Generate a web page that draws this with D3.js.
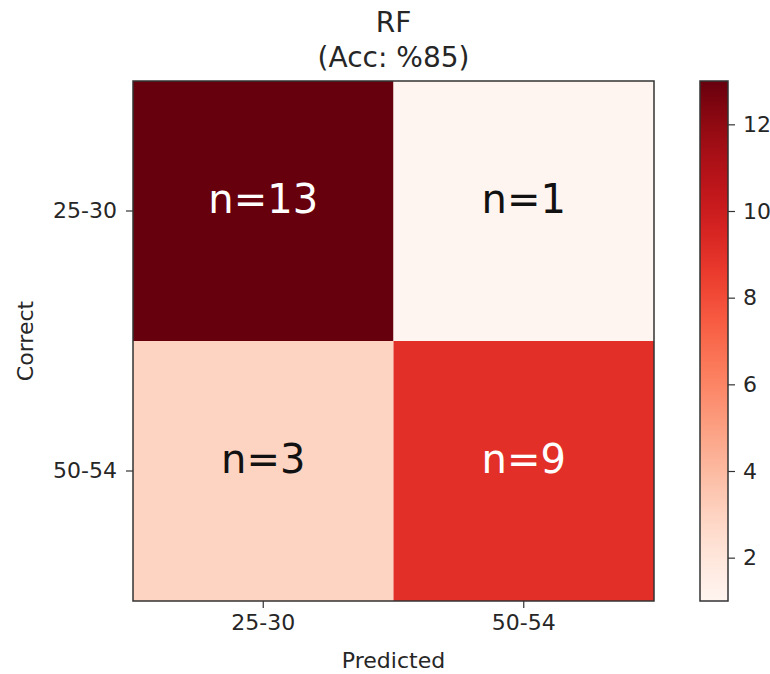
<!DOCTYPE html>
<html>
<head>
<meta charset="utf-8">
<script src="https://cdn.jsdelivr.net/npm/d3@7"></script>
<style>
  html, body { margin: 0; padding: 0; background: #ffffff; }
  svg { display: block; font-family: "DejaVu Sans", sans-serif; }
</style>
</head>
<body>
<svg id="chart" width="770" height="674"></svg>
<script>
// ---- data ----
const predictedLabels = ["25-30", "50-54"];
const correctLabels = ["25-30", "50-54"];
const counts = [
  [13, 1],
  [3, 9]
];
const colorbarTicks = [2, 4, 6, 8, 10, 12];
const titleLines = ["RF", "(Acc: %85)"];
const xAxisLabel = "Predicted";
const yAxisLabel = "Correct";

// ---- layout ----
const svg = d3.select("#chart");
const plot = { left: 133, right: 654, top: 81, bottom: 601 };
const cbar = { left: 700, width: 28 };
const textColor = "#262626";
const frameColor = "#333333";

const allVals = counts.flat();
const vmin = d3.min(allVals), vmax = d3.max(allVals);
const color = d3.scaleSequential(d3.interpolateReds).domain([vmin, vmax]);

const x = d3.scaleBand().domain(predictedLabels).range([plot.left, plot.right]);
const y = d3.scaleBand().domain(correctLabels).range([plot.top, plot.bottom]);

const cells = [];
correctLabels.forEach((c, i) => predictedLabels.forEach((p, j) => cells.push({ c, p, v: counts[i][j] })));

// cells
svg.append("g").selectAll("rect").data(cells).join("rect")
  .attr("x", d => x(d.p)).attr("y", d => y(d.c))
  .attr("width", x.bandwidth()).attr("height", y.bandwidth())
  .attr("fill", d => color(d.v));

// annotations
svg.append("g").selectAll("text").data(cells).join("text")
  .attr("x", d => x(d.p) + x.bandwidth() / 2)
  .attr("y", d => y(d.c) + y.bandwidth() / 2 - 12)
  .attr("text-anchor", "middle")
  .attr("dominant-baseline", "central")
  .attr("font-size", 40)
  .attr("fill", d => d.v > (vmin + vmax) / 2 ? "#ffffff" : "#111111")
  .text(d => "n=" + d.v);

// frame
svg.append("rect")
  .attr("x", plot.left).attr("y", plot.top)
  .attr("width", plot.right - plot.left).attr("height", plot.bottom - plot.top)
  .attr("fill", "none").attr("stroke", frameColor).attr("stroke-width", 1.5);

// axes
const xAxis = svg.append("g")
  .attr("transform", `translate(0,${plot.bottom})`)
  .call(d3.axisBottom(x).tickSize(7).tickPadding(6));
const yAxis = svg.append("g")
  .attr("transform", `translate(${plot.left},0)`)
  .call(d3.axisLeft(y).tickSize(7).tickPadding(9));
[xAxis, yAxis].forEach(g => {
  g.select(".domain").remove();
  g.selectAll(".tick line").attr("stroke", frameColor).attr("stroke-width", 1.2);
  g.selectAll(".tick text").attr("font-size", 22).attr("fill", textColor)
    .attr("font-family", "DejaVu Sans, sans-serif");
});

// axis labels
svg.append("text")
  .attr("x", (plot.left + plot.right) / 2).attr("y", 668)
  .attr("text-anchor", "middle").attr("font-size", 22).attr("fill", textColor)
  .text(xAxisLabel);
svg.append("text")
  .attr("transform", `translate(33,${(plot.top + plot.bottom) / 2}) rotate(-90)`)
  .attr("text-anchor", "middle").attr("font-size", 22).attr("fill", textColor)
  .text(yAxisLabel);

// title
svg.append("g").selectAll("text").data(titleLines).join("text")
  .attr("x", (plot.left + plot.right) / 2)
  .attr("y", (d, i) => 32 + i * 35)
  .attr("text-anchor", "middle").attr("font-size", 28).attr("fill", textColor)
  .text(d => d);

// colorbar
const cbScale = d3.scaleLinear().domain([vmin, vmax]).range([plot.bottom, plot.top]);
const defs = svg.append("defs");
const grad = defs.append("linearGradient").attr("id", "cbgrad")
  .attr("x1", 0).attr("y1", 1).attr("x2", 0).attr("y2", 0);
d3.range(0, 1.0001, 0.05).forEach(t => {
  grad.append("stop").attr("offset", t).attr("stop-color", color(vmin + t * (vmax - vmin)));
});
svg.append("rect")
  .attr("x", cbar.left).attr("y", plot.top)
  .attr("width", cbar.width).attr("height", plot.bottom - plot.top)
  .attr("fill", "url(#cbgrad)")
  .attr("stroke", frameColor).attr("stroke-width", 1.5);
const cAxis = svg.append("g")
  .attr("transform", `translate(${cbar.left + cbar.width},0)`)
  .call(d3.axisRight(cbScale).tickValues(colorbarTicks).tickSize(7).tickPadding(8));
cAxis.select(".domain").remove();
cAxis.selectAll(".tick line").attr("stroke", frameColor).attr("stroke-width", 1.2);
cAxis.selectAll(".tick text").attr("font-size", 22).attr("fill", textColor)
  .attr("font-family", "DejaVu Sans, sans-serif");
</script>
</body>
</html>
